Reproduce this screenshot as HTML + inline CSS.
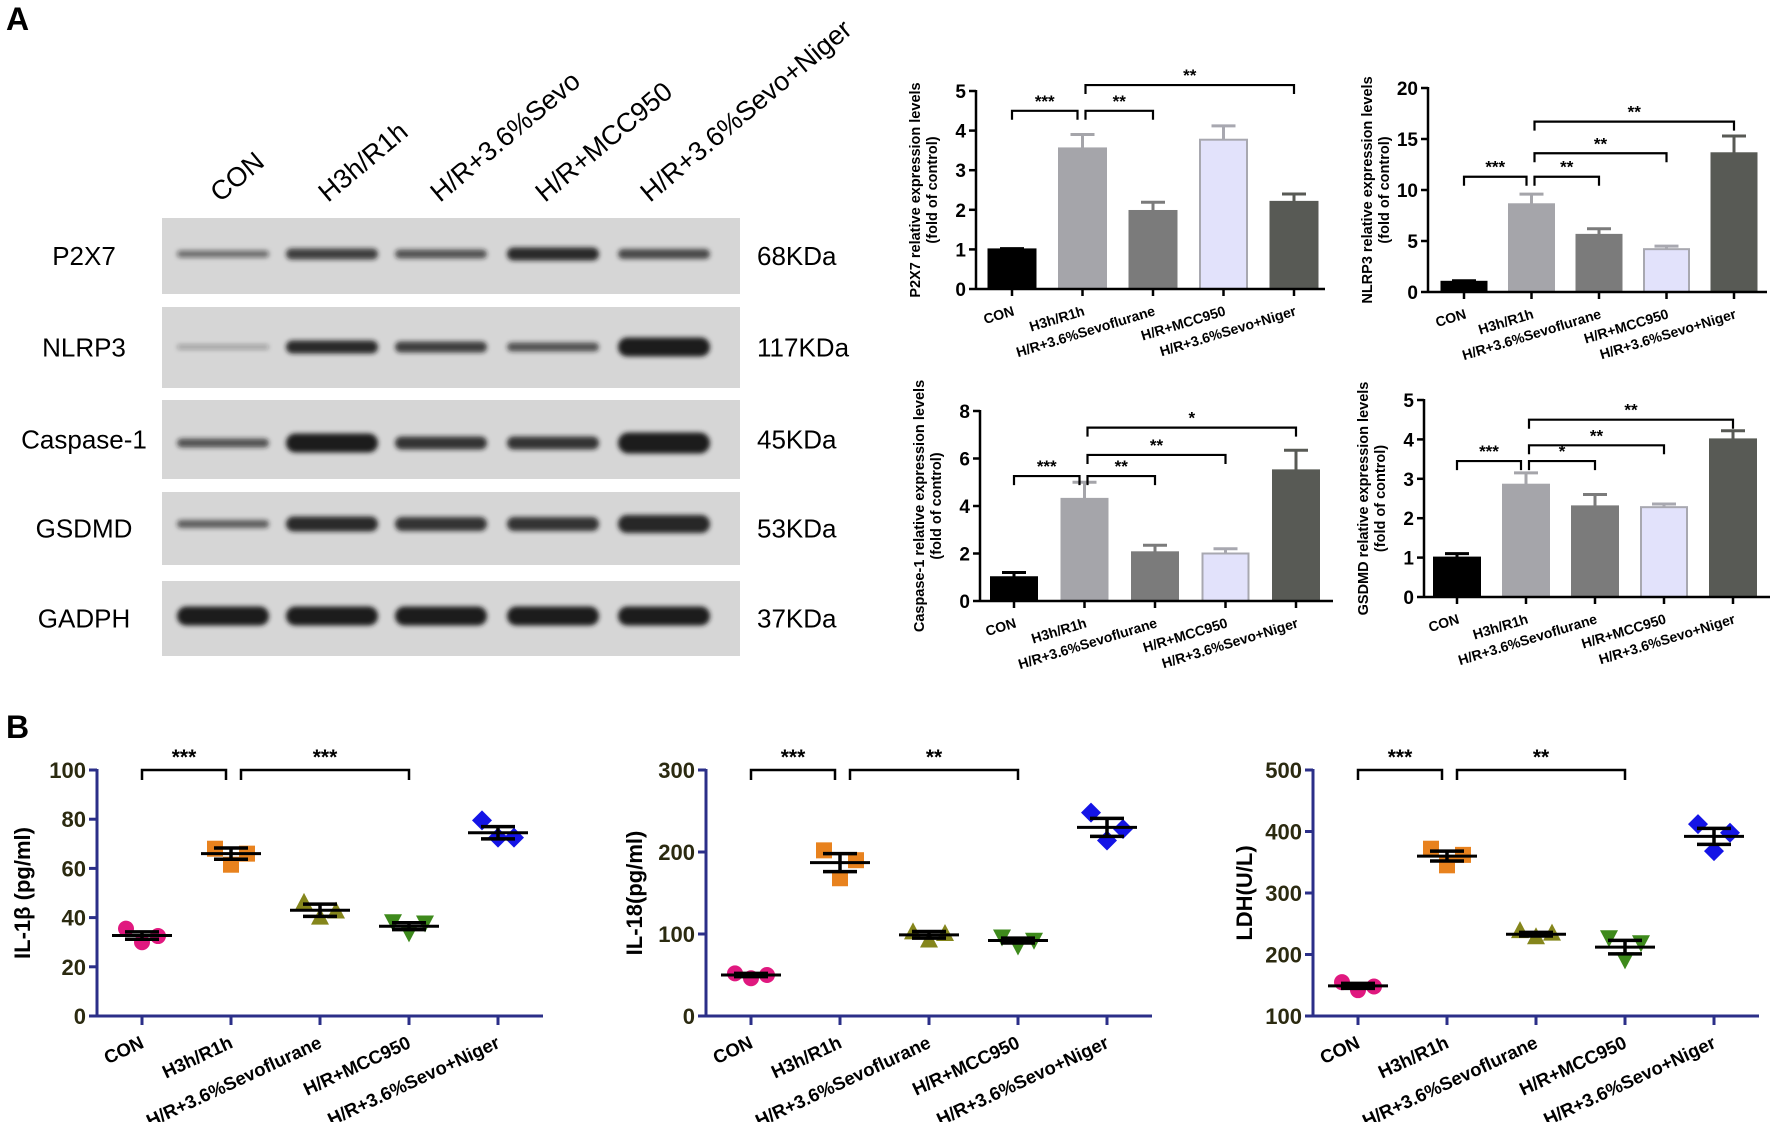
<!DOCTYPE html>
<html><head><meta charset="utf-8">
<style>
html,body{margin:0;padding:0;background:#fff;}
svg{display:block;font-family:"Liberation Sans",Arial,sans-serif;}
</style></head>
<body>
<svg id="fig" width="1772" height="1122" viewBox="0 0 1772 1122" xmlns="http://www.w3.org/2000/svg">
<defs>
<filter id="blur" x="-20%" y="-100%" width="140%" height="300%"><feGaussianBlur stdDeviation="2.5"/></filter>
</defs>
<text x="6" y="30" font-size="32" font-weight="bold">A</text>
<text x="6" y="738" font-size="32" font-weight="bold">B</text>
<g id="blot"></g>
<g id="bars"></g>
<g id="scatter"></g>
</svg>
<script>
const NS="http://www.w3.org/2000/svg";
function mk(parent,tag,attrs,text){const e=document.createElementNS(NS,tag);for(const k in attrs)e.setAttribute(k,attrs[k]);if(text!==undefined)e.textContent=text;parent.appendChild(e);return e;}

// ---------- Blot data ----------
const blotLanes=["CON","H3h/R1h","H/R+3.6%Sevo","H/R+MCC950","H/R+3.6%Sevo+Niger"];
const blotProteins=["P2X7","NLRP3","Caspase-1","GSDMD","GADPH"];
const blotKDa=["68KDa","117KDa","45KDa","53KDa","37KDa"];
const bandP2X7=[0.55,0.8,0.7,0.9,0.75];
const bandNLRP3=[0.3,0.9,0.8,0.7,1.0];
const bandCasp=[0.7,1.0,0.85,0.85,1.0];
const bandGSDMD=[0.65,0.9,0.85,0.85,0.95];
const bandGADPH=[1,1,1,1,1];
const bandThick=[[7,11,9,13,10],[5,13,11,9,19],[9,19,13,13,21],[8,15,14,14,18],[19,19,19,19,19]];

(function(){
  const g=document.getElementById('blot');
  const rows=[[218,294],[307,388],[400,479],[492,565],[581,656]];
  const bandY=[254,347,443,524,616];
  const laneX=[223,332,441,553,664];
  const labX=[220,328,440,545,650];
  const bands=[bandP2X7,bandNLRP3,bandCasp,bandGSDMD,bandGADPH];
  blotLanes.forEach((l,i)=>{
    const t=mk(g,'text',{x:labX[i],y:203,'font-size':27,transform:`rotate(-40 ${labX[i]} 203)`},l);
    
    
  });
  rows.forEach((r,i)=>{
    const rect=mk(g,'rect',{x:162,y:r[0],width:578,height:r[1]-r[0],fill:'#d6d6d6'});
    
    
    const pl=mk(g,'text',{x:84,y:(r[0]+r[1])/2+9,'font-size':26,'text-anchor':'middle'},blotProteins[i]);
    
    
    const kl=mk(g,'text',{x:757,y:(r[0]+r[1])/2+9,'font-size':26},blotKDa[i]);
    
    
    bands[i].forEach((v,j)=>{
      const h=bandThick[i][j];
      const b=mk(g,'rect',{x:laneX[j]-46,y:bandY[i]-h/2,width:92,height:h,rx:h/2,fill:'#1a1a1a','fill-opacity':v,filter:'url(#blur)'});
      
      
    });
  });
})();

// ---------- Bar chart data ----------
const barCats=["CON","H3h/R1h","H/R+3.6%Sevoflurane","H/R+MCC950","H/R+3.6%Sevo+Niger"];
const p2x7Vals=[1.0,3.55,1.97,3.77,2.2];
const p2x7Err=[0.02,0.35,0.22,0.35,0.2];
const nlrp3Vals=[1.0,8.6,5.6,4.2,13.6];
const nlrp3Err=[0.1,1.0,0.6,0.3,1.7];
const caspVals=[1.0,4.3,2.05,2.0,5.5];
const caspErr=[0.2,0.7,0.3,0.2,0.85];
const gsdmdVals=[1.0,2.85,2.3,2.28,4.0];
const gsdmdErr=[0.1,0.3,0.3,0.08,0.22];
const p2x7Ticks=[0,1,2,3,4,5];
const nlrp3Ticks=[0,5,10,15,20];
const caspTicks=[0,2,4,6,8];
const gsdmdTicks=[0,1,2,3,4,5];
const p2x7Sig=[[0,1,4.5,"***"],[1,2,4.5,"**"],[1,4,5.15,"**"]];
const nlrp3Sig=[[0,1,11.3,"***"],[1,2,11.3,"**"],[1,3,13.6,"**"],[1,4,16.7,"**"]];
const caspSig=[[0,1,5.26,"***"],[1,2,5.26,"**"],[1,3,6.15,"**"],[1,4,7.3,"*"]];
const gsdmdSig=[[0,1,3.45,"***"],[1,2,3.45,"*"],[1,3,3.85,"**"],[1,4,4.5,"**"]];

const barFill=["#000000","#a5a5aa","#7b7b7b","#e2e2fb","#585a55"];
const barStroke=["#000000","#a5a5aa","#7b7b7b","#a8a8b0","#585a55"];

function barChart(cfg){
  const g=mk(document.getElementById('bars'),'g',{});
  
  
  const ymax=cfg.ticks[cfg.ticks.length-1];
  const Y=v=>cfg.y0-(v/ymax)*(cfg.y0-cfg.yT);
  const X=i=>cfg.c0+i*cfg.s;
  cfg.vals.forEach((v,i)=>{
    const ey=Y(v+cfg.err[i]);
    const el=mk(g,'line',{x1:X(i),x2:X(i),y1:Y(v),y2:ey,stroke:barStroke[i],'stroke-width':3});
    
    
    const ec=mk(g,'line',{x1:X(i)-12,x2:X(i)+12,y1:ey,y2:ey,stroke:barStroke[i],'stroke-width':3});
    
    
    const r=mk(g,'rect',{x:X(i)-cfg.w/2+1,y:Y(v),width:cfg.w-2,height:cfg.y0-Y(v),fill:barFill[i],stroke:barStroke[i],'stroke-width':2});
    
    
  });
  const ya=mk(g,'line',{x1:cfg.ax,x2:cfg.ax,y1:cfg.yT-1,y2:cfg.y0+1,stroke:'#000','stroke-width':2.5});
  
  
  const xa=mk(g,'line',{x1:cfg.ax,x2:cfg.end,y1:cfg.y0,y2:cfg.y0,stroke:'#000','stroke-width':2.5});
  
  
  cfg.ticks.forEach(t=>{
    mk(g,'line',{x1:cfg.ax-7,x2:cfg.ax,y1:Y(t),y2:Y(t),stroke:'#000','stroke-width':2.5});
    const tl=mk(g,'text',{x:cfg.ax-10,y:Y(t)+7,'font-size':19,'font-weight':'bold','text-anchor':'end'},String(t));
    
    
  });
  barCats.forEach((c,i)=>{
    mk(g,'line',{x1:X(i),x2:X(i),y1:cfg.y0,y2:cfg.y0+7,stroke:'#000','stroke-width':2.5});
    const cl=mk(g,'text',{x:X(i)+3,y:cfg.y0+26,'font-size':14,'font-weight':'bold','text-anchor':'end',transform:`rotate(-17 ${X(i)+3} ${cfg.y0+26})`},c);
    
    
  });
  const cy=(cfg.y0+cfg.yT)/2;
  const t1=mk(g,'text',{x:cfg.ax-56,y:cy,'font-size':14.5,'font-weight':'bold','text-anchor':'middle',transform:`rotate(-90 ${cfg.ax-56} ${cy})`},cfg.title);
  
  
  const t2=mk(g,'text',{x:cfg.ax-39,y:cy,'font-size':14.5,'font-weight':'bold','text-anchor':'middle',transform:`rotate(-90 ${cfg.ax-39} ${cy})`},"(fold of control)");
  
  
  cfg.sig.forEach(s=>{
    const xa1=s[0]===1?X(1)+3:X(s[0]);
    const xb=s[1]===1?X(1)-5:X(s[1]);
    const y=Y(s[2]);
    const p=mk(g,'path',{d:`M${xa1} ${y+9}V${y}H${xb}V${y+9}`,fill:'none',stroke:'#000','stroke-width':2.2});
    
    
    const st=mk(g,'text',{x:(xa1+xb)/2,y:y-4,'font-size':17,'font-weight':'bold','text-anchor':'middle'},s[3]);
    
    
  });
}
barChart({name:'p2x7-chart',vals:p2x7Vals,err:p2x7Err,ticks:p2x7Ticks,sig:p2x7Sig,title:"P2X7 relative expression levels",ax:976,y0:289,yT:91,c0:1012,s:70.5,w:49,end:1325});
barChart({name:'nlrp3-chart',vals:nlrp3Vals,err:nlrp3Err,ticks:nlrp3Ticks,sig:nlrp3Sig,title:"NLRP3 relative expression levels",ax:1428,y0:292,yT:88,c0:1464,s:67.5,w:47,end:1767});
barChart({name:'caspase1-chart',vals:caspVals,err:caspErr,ticks:caspTicks,sig:caspSig,title:"Caspase-1 relative expression levels",ax:980,y0:601,yT:411,c0:1014,s:70.5,w:48,end:1333});
barChart({name:'gsdmd-chart',vals:gsdmdVals,err:gsdmdErr,ticks:gsdmdTicks,sig:gsdmdSig,title:"GSDMD relative expression levels",ax:1424,y0:597,yT:400,c0:1457,s:69,w:48,end:1770});

// ---------- Scatter data ----------
const scCats=["CON","H3h/R1h","H/R+3.6%Sevoflurane","H/R+MCC950","H/R+3.6%Sevo+Niger"];
const il1bPts=[[35.5,30,32.5],[68,61.5,66],[46,40,42.5],[38.5,34,38],[79.5,72.5,72.5]];
const il1bMean=[32.7,66,43,36.5,74.5];
const il1bSem=[1.5,2.3,2.5,1.4,2.5];
const il1bTicks=[0,20,40,60,80,100];
const il18Pts=[[52,46,50],[202,168,190],[102,92,100],[97,86,93],[248,214,228]];
const il18Mean=[50,187,99,92,230];
const il18Sem=[2,11,4,3,11];
const il18Ticks=[0,100,200,300];
const ldhPts=[[155,142,148],[372,345,362],[238,228,234],[228,192,220],[412,368,398]];
const ldhMean=[149,360,233,212,392];
const ldhSem=[4,8,3,11,13];
const ldhTicks=[100,200,300,400,500];
const il1bSig=[[0,1,"***"],[1,3,"***"]];
const il18Sig=[[0,1,"***"],[1,3,"**"]];
const ldhSig=[[0,1,"***"],[1,3,"**"]];

const mColor=["#e0187f","#e8821e","#85861c","#3e8a1c","#1414e6"];
function marker(g,k,x,y){
  const c=mColor[k];let e;
  if(k===0)e=mk(g,'circle',{cx:x,cy:y,r:8,fill:c});
  else if(k===1)e=mk(g,'rect',{x:x-8,y:y-8,width:16,height:16,fill:c});
  else if(k===2)e=mk(g,'path',{d:`M${x} ${y-10}L${x+9} ${y+7}L${x-9} ${y+7}Z`,fill:c});
  else if(k===3)e=mk(g,'path',{d:`M${x} ${y+10}L${x+9} ${y-7}L${x-9} ${y-7}Z`,fill:c});
  else e=mk(g,'path',{d:`M${x} ${y-10}L${x+10} ${y}L${x} ${y+10}L${x-10} ${y}Z`,fill:c});
  
  
}
function scatterChart(cfg){
  const g=mk(document.getElementById('scatter'),'g',{});
  
  
  const lo=cfg.ticks[0],hi=cfg.ticks[cfg.ticks.length-1];
  const y0=1016,yT=770;
  const Y=v=>y0-(v-lo)/(hi-lo)*(y0-yT);
  const X=i=>cfg.ax+45+i*89;
  const navy="#2b2f88";
  const ya=mk(g,'line',{x1:cfg.ax,x2:cfg.ax,y1:yT-1,y2:y0+1,stroke:navy,'stroke-width':3});
  
  
  const xa=mk(g,'line',{x1:cfg.ax-8,x2:cfg.ax+446,y1:y0,y2:y0,stroke:navy,'stroke-width':3});
  
  
  cfg.ticks.forEach(t=>{
    mk(g,'line',{x1:cfg.ax-8,x2:cfg.ax,y1:Y(t),y2:Y(t),stroke:navy,'stroke-width':3});
    const tl=mk(g,'text',{x:cfg.ax-11,y:Y(t)+8,'font-size':22,'font-weight':'bold',fill:'#2b2a10','text-anchor':'end'},String(t));
    
    
  });
  scCats.forEach((c,i)=>{
    mk(g,'line',{x1:X(i),x2:X(i),y1:y0,y2:y0+9,stroke:navy,'stroke-width':3});
    const cl=mk(g,'text',{x:X(i)+3,y:y0+31,'font-size':18.5,'font-weight':'bold','text-anchor':'end',transform:`rotate(-25 ${X(i)+3} ${y0+31})`},c);
    
    
  });
  const offs=[-16,0,16];
  cfg.pts.forEach((arr,i)=>{
    arr.forEach((v,j)=>marker(g,i,X(i)+offs[j],Y(v)));
    const m=mk(g,'line',{x1:X(i)-30,x2:X(i)+30,y1:Y(cfg.mean[i]),y2:Y(cfg.mean[i]),stroke:'#000','stroke-width':3});
    
    
    const hiY=Y(cfg.mean[i]+cfg.sem[i]),loY=Y(cfg.mean[i]-cfg.sem[i]);
    const e=mk(g,'path',{d:`M${X(i)} ${hiY}V${loY}M${X(i)-17} ${hiY}H${X(i)+17}M${X(i)-17} ${loY}H${X(i)+17}`,stroke:'#000','stroke-width':3.5,fill:'none'});
    
    
  });
  const cy=(y0+yT)/2;
  const tt=mk(g,'text',{x:cfg.tx,y:cy,'font-size':22,'font-weight':'bold','text-anchor':'middle',transform:`rotate(-90 ${cfg.tx} ${cy})`},cfg.title);
  
  
  cfg.sig.forEach(s=>{
    const xa1=s[0]===1?X(1)+10:X(s[0]);
    const xb=s[1]===1?X(1)-5:X(s[1]);
    const y=yT;
    const p=mk(g,'path',{d:`M${xa1} ${y+10}V${y}H${xb}V${y+10}`,fill:'none',stroke:'#000','stroke-width':2.5});
    
    
    const st=mk(g,'text',{x:(xa1+xb)/2,y:y-6,'font-size':21,'font-weight':'bold','text-anchor':'middle'},s[2]);
    
    
  });
}
scatterChart({name:'il1b-chart',pts:il1bPts,mean:il1bMean,sem:il1bSem,ticks:il1bTicks,sig:il1bSig,title:"IL-1β (pg/ml)",ax:97,tx:30});
scatterChart({name:'il18-chart',pts:il18Pts,mean:il18Mean,sem:il18Sem,ticks:il18Ticks,sig:il18Sig,title:"IL-18(pg/ml)",ax:706,tx:642});
scatterChart({name:'ldh-chart',pts:ldhPts,mean:ldhMean,sem:ldhSem,ticks:ldhTicks,sig:ldhSig,title:"LDH(U/L)",ax:1313,tx:1252});
</script>
</body></html>
